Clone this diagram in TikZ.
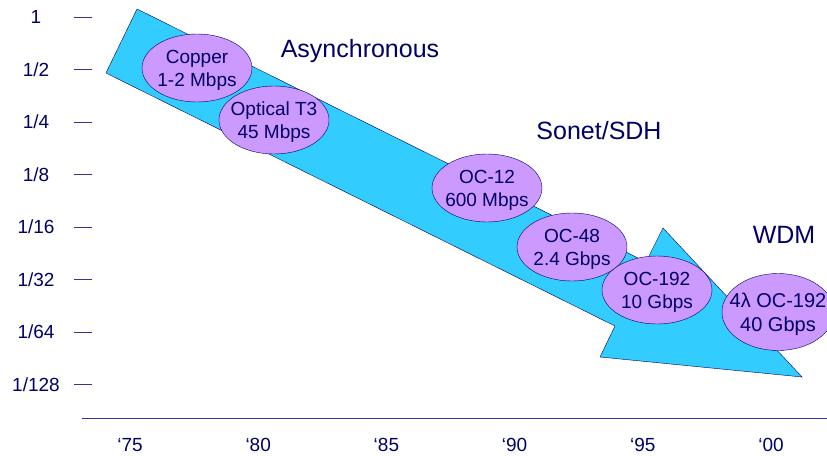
\documentclass[tikz,border=0pt]{standalone}
\usepackage{fontspec}
\setmainfont{Liberation Sans}
\usetikzlibrary{shapes.geometric}
\definecolor{navy}{RGB}{0,0,102}
\definecolor{arrowcyan}{RGB}{51,204,255}
\definecolor{bubble}{RGB}{204,153,255}
\definecolor{tickblue}{RGB}{51,51,153}
\tikzset{
  rate/.style={ellipse, draw=navy, fill=bubble, minimum width=110pt, minimum height=68pt,
    inner xsep=-12pt, inner ysep=0pt, text depth=0pt, align=center, text=navy, font=\fontsize{19}{23}\selectfont},
  era/.style={text=navy, font=\fontsize{25}{30}\selectfont},
  axislabel/.style={text=navy, font=\fontsize{19}{23}\selectfont}
}
\begin{document}
\begin{tikzpicture}[x=1pt,y=-1pt]
	\useasboundingbox (0,0) rectangle (827,455);
	% the big arrow
	\draw [navy, fill=arrowcyan] (137,9) -- (646,262) -- (663,228) -- (802,377) -- (600,357) -- (615,326) -- (106,73) -- cycle;
	% cost axis
	\foreach \lab [count=\i from 0] in {1,1/2,1/4,1/8,1/16,1/32,1/64,1/128} {
		\node [axislabel] (cost\i) at (36,17+52.5*\i) {\lab};
		\draw [tickblue] (74,17+52.5*\i) -- (92,17+52.5*\i);
	}
	% time axis
	\draw [tickblue, line width=0.8pt] (82,418) -- (827,418);
	\foreach \yr [count=\i from 0] in {75,80,85,90,95,00}
		\node [axislabel] (year\i) at (130+128.2*\i,445) {`\yr};
	% eras
	\node [era] (async) at (360,51) {Asynchronous};
	\node [era] (sonet) at (599,131) {Sonet/SDH};
	\node [era] (wdm) at (784,235) {WDM};
	% rates
	\node [rate] (copper) at (197,68) {Copper\\1-2 Mbps};
	\node [rate] (optical) at (274,120) {Optical T3\\45 Mbps};
	\node [rate] (oc12) at (487,188) {OC-12\\600 Mbps};
	\node [rate] (oc48) at (572,247) {OC-48\\2.4 Gbps};
	\node [rate] (oc192) at (657,290) {OC-192\\10 Gbps};
	\node [rate, minimum width=112pt, minimum height=77pt, font=\fontsize{20}{24}\selectfont] (wdm192) at (778,312) {4λ OC-192\\40 Gbps};
\end{tikzpicture}
\end{document}
